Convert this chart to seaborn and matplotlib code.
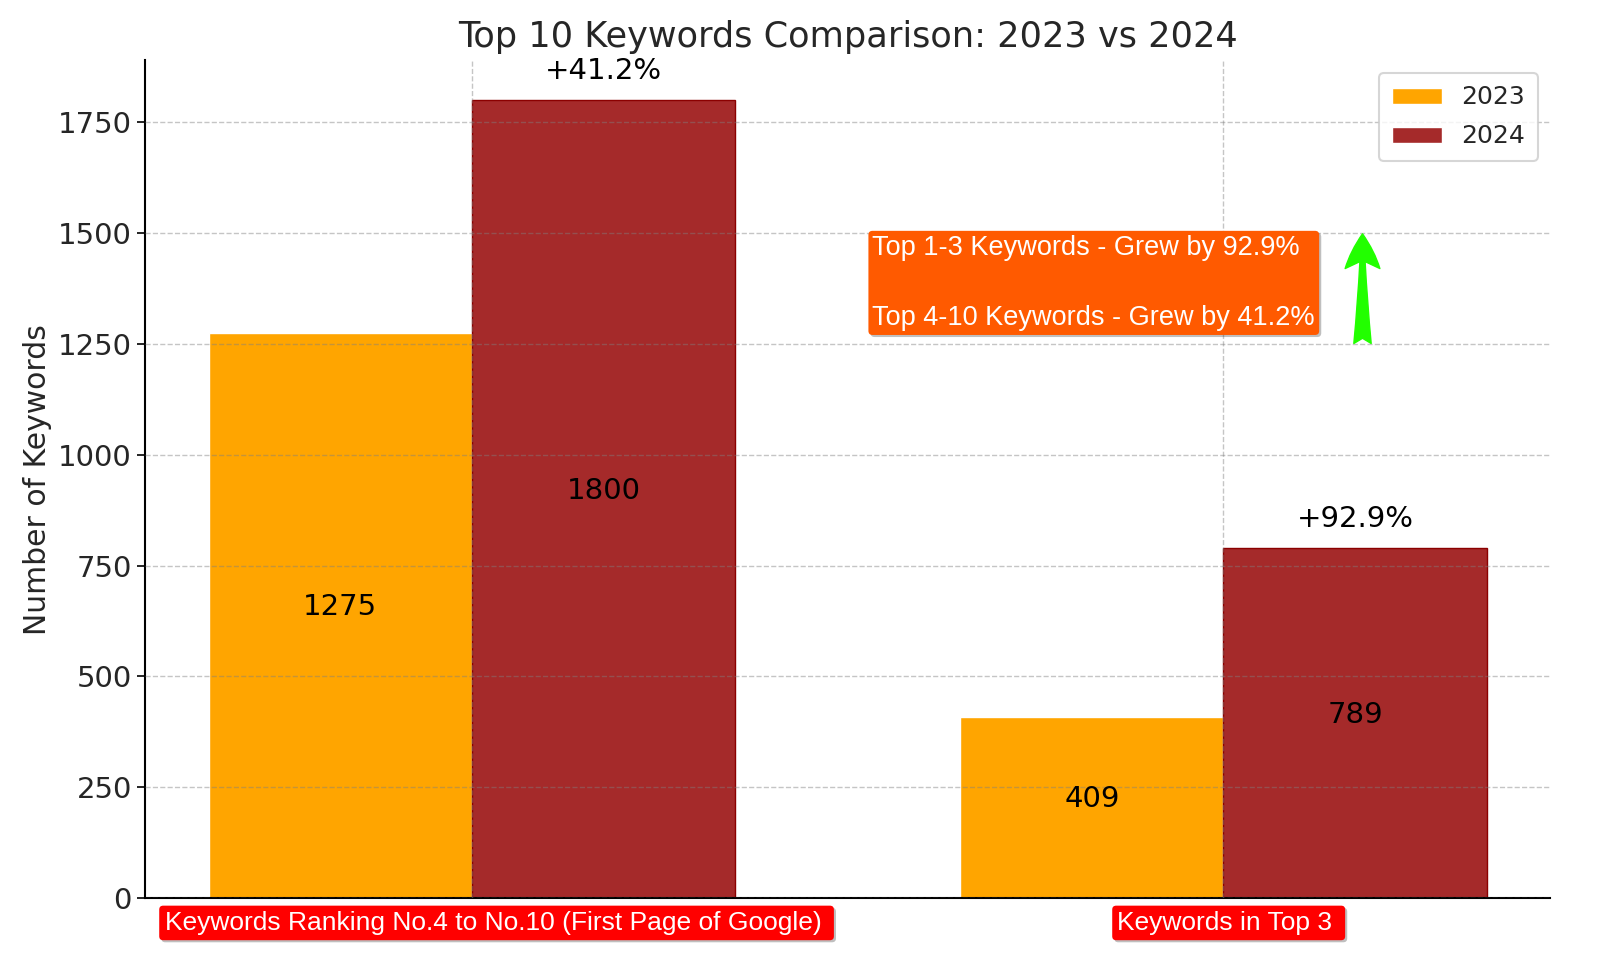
import pandas as pd
import matplotlib.pyplot as plt
import matplotlib.patheffects as pe
import seaborn as sns

categories = ['Keywords Ranking No.4 to No.10 (First Page of Google)', 'Keywords in Top 3']
years = ['2023', '2024']
values_2023 = [1275, 409]
values_2024 = [1800, 789]
growth_labels = ['+41.2%', '+92.9%']
note_lines = ['Top 1-3 Keywords - Grew by 92.9%', '', 'Top 4-10 Keywords - Grew by 41.2%']

data = pd.DataFrame({
    'category': categories * 2,
    'year': [years[0]] * 2 + [years[1]] * 2,
    'count': values_2023 + values_2024,
})

sns.set_theme(style="whitegrid")
plt.rcParams['font.family'] = ['DejaVu Sans']

fig, ax = plt.subplots(figsize=(16, 9.75), dpi=100)
fig.subplots_adjust(left=0.0906, right=0.969, bottom=0.079, top=0.938)

sns.barplot(data=data, x='category', y='count', hue='year', order=categories, hue_order=years,
            palette=['orange', 'brown'], width=0.7, saturation=1, ax=ax)

# thin darker outline on the 2024 bars, like the original
for bar in ax.containers[1]:
    bar.set_edgecolor('#8b0000')
    bar.set_linewidth(1)

# value labels in the middle of each bar
for cont in ax.containers:
    for bar in cont:
        h = bar.get_height()
        ax.text(bar.get_x() + bar.get_width() / 2, h / 2, f'{int(round(h))}',
                ha='center', va='baseline', fontsize=21, color='black')

red_bars = ax.containers[1]
for bar, txt in zip(red_bars, growth_labels):
    ax.text(bar.get_x() + bar.get_width() / 2, bar.get_height() + 35, txt,
            ha='center', va='bottom', fontsize=21, color='black')

ax.set_xlim(-0.435, 1.435)
ax.set_ylim(0, 1890)
ax.set_yticks([0, 250, 500, 750, 1000, 1250, 1500, 1750])

ax.set_title('Top 10 Keywords Comparison: 2023 vs 2024', fontsize=25.3, pad=10)
ax.set_xlabel('')
ax.set_ylabel('Number of Keywords', fontsize=21.5)
ax.tick_params(axis='y', labelsize=21, left=True, length=6, width=1.2, color='black')
ax.tick_params(axis='x', length=0, labelbottom=False)

# grid sits on top of the bars in the original
ax.set_axisbelow(False)
ax.grid(True, linestyle='--', color='gray', alpha=0.45, linewidth=1)
ax.xaxis.grid(True)

for side in ['top', 'right']:
    ax.spines[side].set_visible(False)
for side in ['left', 'bottom']:
    ax.spines[side].set_color('black')
    ax.spines[side].set_linewidth(1.5)

shadow = [pe.withSimplePatchShadow(offset=(1.5, -1.5), shadow_rgbFace='black', alpha=0.25)]

# red category labels under the axis
label_left = [-0.409, 0.859]
for xpos, cat in zip(label_left, categories):
    t = ax.text(xpos, -0.0298, cat + ' ', transform=ax.get_xaxis_transform(),
                ha='left', va='center', fontsize=19, family='Liberation Sans', color='white', zorder=5,
                bbox=dict(boxstyle='round,pad=0.2,rounding_size=0.15', facecolor='#ff0000', edgecolor='none'))
    t.get_bbox_patch().set_path_effects(shadow)

note = ax.text(0.533, 1388, '\n'.join(note_lines), ha='left', va='center', fontsize=19.5,
               family='Liberation Sans', color='white', linespacing=1.45, zorder=5,
               bbox=dict(boxstyle='round,pad=0.15,rounding_size=0.15', facecolor='#ff5a00', edgecolor='none'))
note.get_bbox_patch().set_path_effects(shadow)

ax.annotate('', xy=(1.185, 1505), xytext=(1.185, 1245),
            arrowprops=dict(arrowstyle='fancy,head_width=1.0,head_length=1.0,tail_width=0.5',
                            facecolor='#22ff00', edgecolor='#22ff00', mutation_scale=25))

leg = ax.legend(loc='upper right', fontsize=18, frameon=True, borderpad=0.5,
                handlelength=2.0, handleheight=0.6, labelspacing=0.6)
leg.get_frame().set_edgecolor('#cccccc')
leg.get_frame().set_linewidth(1.5)
leg.set_zorder(6)

fig.savefig('out.png', dpi=100, facecolor='white')
